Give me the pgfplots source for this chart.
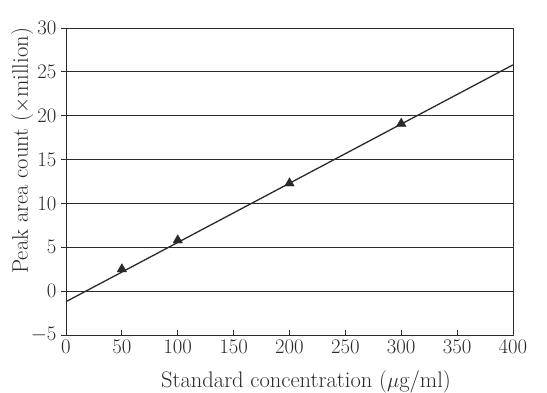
\documentclass[border=0pt]{standalone}
\usepackage{pgfplots}
\pgfplotsset{compat=1.18}
\definecolor{ink}{HTML}{2A2A2A}
\begin{document}
\begin{tikzpicture}
\begin{axis}[
  scale only axis,
  width=447pt, height=307pt,
  xmin=0, xmax=400, ymin=-5, ymax=30,
  xtick={0,50,...,400},
  ytick={-5,0,...,30},
  ymajorgrids,
  grid style={ink, line width=0.9pt},
  axis line style={ink, line width=0.9pt},
  xtick pos=bottom, ytick pos=left,
  x tick style={ink, line width=0.8pt},
  y tick style={ink, line width=0.8pt},
  xtick align=inside, ytick align=outside,
  major tick length=5pt,
  ticklabel style={font=\fontsize{21.5}{24}\selectfont, text=ink},
  yticklabel style={xshift=-1pt},
  xticklabel style={yshift=-2pt},
  xlabel={Standard concentration ($\mu$g/ml)},
  ylabel={Peak area count ($\times$million)},
  label style={font=\fontsize{22.5}{26}\selectfont, text=ink},
  xlabel style={at={(axis description cs:0.537,0)}, anchor=base, yshift=-52pt},
  ylabel style={at={(axis description cs:-0.098,0.60)}, anchor=center},
  clip=false,
]
\addplot[ink, line width=1.3pt, no marks] coordinates {(0,-1.2) (400,25.8)};
\addplot[only marks, mark=triangle*, mark size=5.5pt, mark options={fill=ink, draw=ink}] coordinates {
  (50,2.5) (100,5.8) (200,12.3) (300,19.1)};
\end{axis}
\pgfresetboundingbox
\path (-66pt,-57pt) rectangle (481pt,335pt);
\end{tikzpicture}
\end{document}
